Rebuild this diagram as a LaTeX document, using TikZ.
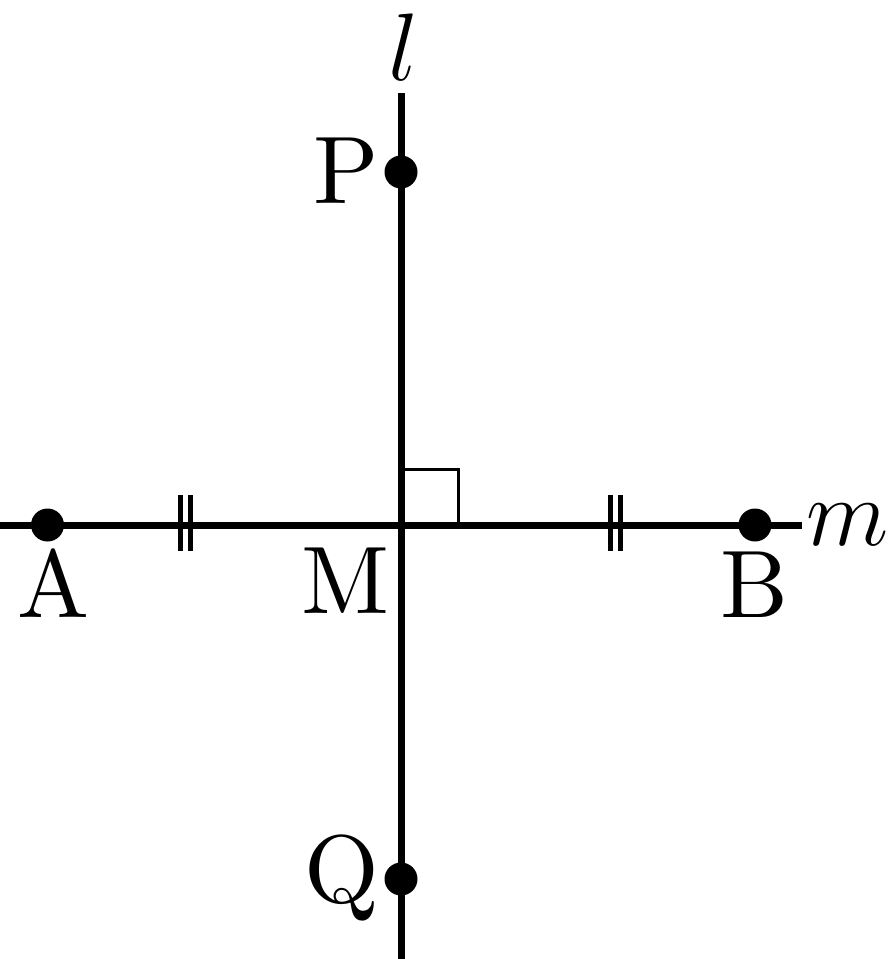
\RequirePackage{fix-cm}
\documentclass[tikz,border=0pt]{standalone}
\usepackage{fontspec}
\setmainfont{lmroman10-regular.otf}
\begin{document}
\begin{tikzpicture}[x=0.5pt,y=-0.5pt,
  mainline/.style={line width=3.5pt},
  tick/.style={line width=2.5pt},
  rightang/.style={line width=1.5pt},
  dotpt/.style={circle,fill=black,inner sep=0pt,minimum size=16.5pt},
  lab/.style={anchor=base,inner sep=0pt,font=\fontsize{48}{58}\selectfont}]
\useasboundingbox (0,0) rectangle (890,959);
% line ends
\coordinate (ltop) at (401,93);
\coordinate (lbot) at (401,962);
\coordinate (mleft) at (-3,525);
\coordinate (mright) at (802,525);
\coordinate (M) at (401,525);
% right angle
\coordinate (ra1) at (401,469);
\coordinate (ra2) at (458,469);
\coordinate (ra3) at (458,525);
\draw[rightang] (ra1) -- (ra2) -- (ra3);
% lines
\draw[mainline] (ltop) -- (lbot);
\draw[mainline] (mleft) -- (mright);
% ticks
\foreach \tx [count=\i] in {180.5,190.5,610.5,620.5}{
  \coordinate (tt\i) at (\tx,495);
  \coordinate (tb\i) at (\tx,551);
  \draw[tick] (tt\i) -- (tb\i);
}
% points
\node[dotpt] (P) at (401,172) {};
\node[dotpt] (Q) at (401,879) {};
\node[dotpt] (A) at (47.5,525) {};
\node[dotpt] (B) at (755,525) {};
% labels
\node[lab] (lP) at (346.5,203) {P};
\node[lab] (lQ) at (342,902) {Q};
\node[lab] (lA) at (53.5,617) {A};
\node[lab] (lB) at (754,617) {B};
\node[lab] (lM) at (345.5,613) {M};
\node[lab] (ll) at (404,80) {$l$};
\node[lab] (lm) at (847.5,545) {$m$};
\end{tikzpicture}
\end{document}
